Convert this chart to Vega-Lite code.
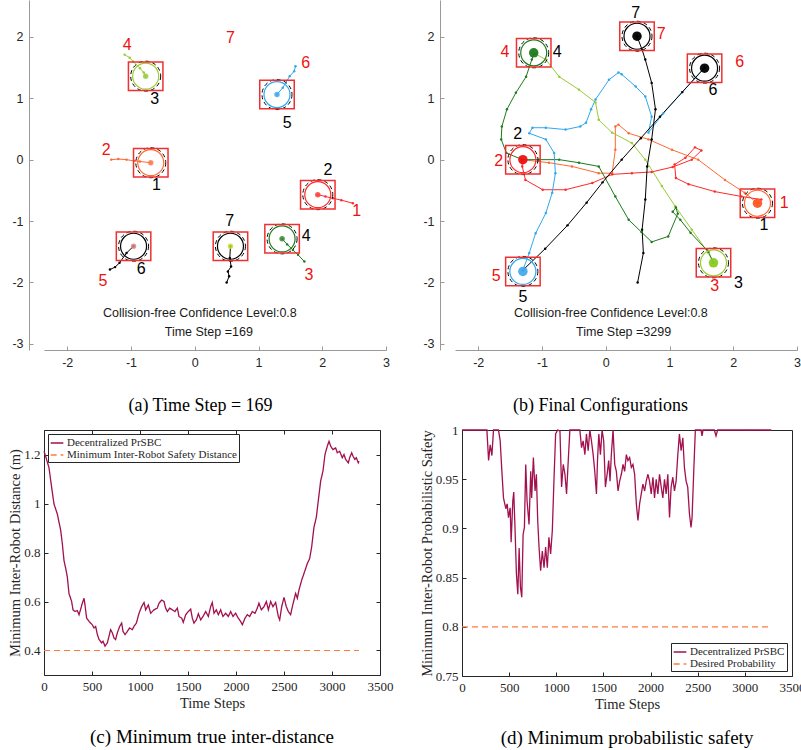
{
"$schema": "https://vega.github.io/schema/vega-lite/v6.json",
"padding": {"left": 7, "top": 0, "right": 0, "bottom": 0},
"config": {"font": "Liberation Sans", "view": {"stroke": null}},
"resolve": {"scale": {"color": "independent", "stroke": "independent", "fill": "independent", "strokeDash": "independent", "x": "independent", "y": "independent"}, "legend": {"color": "independent", "strokeDash": "independent"}},
"datasets": {
"trajA": [
{"robot":1,"x":-1.31,"y":0.0},{"robot":1,"x":-1.2,"y":0.01},{"robot":1,"x":-1.07,"y":0.0},{"robot":1,"x":-0.95,"y":-0.02},{"robot":1,"x":-0.86,"y":-0.03},{"robot":1,"x":-0.69,"y":-0.05},
{"robot":2,"x":2.48,"y":-0.71},{"robot":2,"x":2.3,"y":-0.66},{"robot":2,"x":2.17,"y":-0.63},{"robot":2,"x":2.05,"y":-0.6},{"robot":2,"x":1.93,"y":-0.57},
{"robot":3,"x":-1.1,"y":1.71},{"robot":3,"x":-1.02,"y":1.66},{"robot":3,"x":-0.97,"y":1.6},{"robot":3,"x":-0.86,"y":1.49},{"robot":3,"x":-0.8,"y":1.42},{"robot":3,"x":-0.77,"y":1.36},
{"robot":4,"x":1.72,"y":-1.66},{"robot":4,"x":1.62,"y":-1.55},{"robot":4,"x":1.54,"y":-1.47},{"robot":4,"x":1.45,"y":-1.38},{"robot":4,"x":1.37,"y":-1.29},
{"robot":5,"x":1.58,"y":1.52},{"robot":5,"x":1.56,"y":1.44},{"robot":5,"x":1.49,"y":1.36},{"robot":5,"x":1.38,"y":1.17},{"robot":5,"x":1.29,"y":1.06},
{"robot":6,"x":-1.33,"y":-1.79},{"robot":6,"x":-1.25,"y":-1.75},{"robot":6,"x":-1.18,"y":-1.68},{"robot":6,"x":-1.07,"y":-1.52},{"robot":6,"x":-0.96,"y":-1.41},
{"robot":7,"x":0.5,"y":-2.0},{"robot":7,"x":0.54,"y":-1.9},{"robot":7,"x":0.52,"y":-1.82},{"robot":7,"x":0.57,"y":-1.74},{"robot":7,"x":0.55,"y":-1.6},{"robot":7,"x":0.56,"y":-1.41}
],
"robA": [
{"robot":1,"x":-0.69,"y":-0.05},{"robot":2,"x":1.93,"y":-0.57},{"robot":3,"x":-0.77,"y":1.36},{"robot":4,"x":1.37,"y":-1.29},{"robot":5,"x":1.29,"y":1.06},{"robot":6,"x":-0.96,"y":-1.41},{"robot":7,"x":0.56,"y":-1.41}
],
"blackA": [
{"robot":1,"x":-0.6,"y":-0.42},{"robot":2,"x":2.09,"y":-0.17},{"robot":3,"x":-0.63,"y":0.98},{"robot":4,"x":1.75,"y":-1.25},{"robot":5,"x":1.45,"y":0.6},{"robot":6,"x":-0.84,"y":-1.78},{"robot":7,"x":0.55,"y":-1.0}
],
"redA": [
{"robot":1,"x":2.54,"y":-0.83},{"robot":2,"x":-1.39,"y":0.16},{"robot":3,"x":1.79,"y":-1.88},{"robot":4,"x":-1.06,"y":1.86},{"robot":5,"x":-1.44,"y":-1.98},{"robot":6,"x":1.74,"y":1.57},{"robot":7,"x":0.56,"y":1.98}
],
"notesA": [
{"t":"Collision-free Confidence Level:0.8","x":0.08,"y":-2.5},{"t":"Time Step =169","x":0.22,"y":-2.8}
],
"trajB": [
{"robot":1,"x":-1.31,"y":0.0},{"robot":1,"x":-0.89,"y":-0.05},{"robot":1,"x":-0.53,"y":-0.11},{"robot":1,"x":-0.11,"y":-0.22},{"robot":1,"x":0.1,"y":-0.22},{"robot":1,"x":0.15,"y":0.16},{"robot":1,"x":0.15,"y":0.54},{"robot":1,"x":0.2,"y":0.57},{"robot":1,"x":0.36,"y":0.43},{"robot":1,"x":0.67,"y":0.33},{"robot":1,"x":1.04,"y":0.16},{"robot":1,"x":1.45,"y":0.0},{"robot":1,"x":1.87,"y":-0.33},{"robot":1,"x":2.18,"y":-0.54},{"robot":1,"x":2.38,"y":-0.71},
{"robot":2,"x":2.44,"y":-0.65},{"robot":2,"x":2.13,"y":-0.6},{"robot":2,"x":1.71,"y":-0.52},{"robot":2,"x":1.3,"y":-0.4},{"robot":2,"x":1.1,"y":-0.3},{"robot":2,"x":1.08,"y":-0.08},{"robot":2,"x":1.25,"y":0.03},{"robot":2,"x":1.4,"y":0.2},{"robot":2,"x":1.5,"y":0.15},{"robot":2,"x":1.35,"y":0.0},{"robot":2,"x":1.05,"y":-0.12},{"robot":2,"x":0.72,"y":-0.2},{"robot":2,"x":0.41,"y":-0.22},{"robot":2,"x":0.1,"y":-0.24},{"robot":2,"x":-0.21,"y":-0.38},{"robot":2,"x":-0.63,"y":-0.49},{"robot":2,"x":-0.99,"y":-0.49},{"robot":2,"x":-1.26,"y":-0.33},{"robot":2,"x":-1.31,"y":-0.11},{"robot":2,"x":-1.32,"y":0.0},
{"robot":3,"x":-1.1,"y":1.72},{"robot":3,"x":-0.94,"y":1.63},{"robot":3,"x":-0.73,"y":1.35},{"robot":3,"x":-0.42,"y":1.14},{"robot":3,"x":-0.16,"y":0.93},{"robot":3,"x":-0.11,"y":0.65},{"robot":3,"x":0.1,"y":0.44},{"robot":3,"x":0.41,"y":0.27},{"robot":3,"x":0.62,"y":0.0},{"robot":3,"x":0.88,"y":-0.43},{"robot":3,"x":1.09,"y":-0.76},{"robot":3,"x":1.35,"y":-1.14},{"robot":3,"x":1.61,"y":-1.52},{"robot":3,"x":1.69,"y":-1.68},
{"robot":4,"x":1.69,"y":-1.68},{"robot":4,"x":1.61,"y":-1.5},{"robot":4,"x":1.33,"y":-1.19},{"robot":4,"x":1.17,"y":-0.98},{"robot":4,"x":1.05,"y":-0.85},{"robot":4,"x":1.1,"y":-0.78},{"robot":4,"x":1.13,"y":-0.88},{"robot":4,"x":0.98,"y":-1.25},{"robot":4,"x":0.72,"y":-1.34},{"robot":4,"x":0.56,"y":-1.18},{"robot":4,"x":0.36,"y":-0.98},{"robot":4,"x":0.15,"y":-0.6},{"robot":4,"x":-0.11,"y":-0.11},{"robot":4,"x":-0.42,"y":-0.05},{"robot":4,"x":-0.73,"y":0.0},{"robot":4,"x":-1.05,"y":0.0},{"robot":4,"x":-1.31,"y":0.0},{"robot":4,"x":-1.56,"y":0.11},{"robot":4,"x":-1.64,"y":0.33},{"robot":4,"x":-1.63,"y":0.54},{"robot":4,"x":-1.55,"y":0.82},{"robot":4,"x":-1.41,"y":1.09},{"robot":4,"x":-1.25,"y":1.35},{"robot":4,"x":-1.16,"y":1.63},{"robot":4,"x":-1.13,"y":1.72},
{"robot":5,"x":1.55,"y":1.49},{"robot":5,"x":1.2,"y":1.1},{"robot":5,"x":0.9,"y":0.75},{"robot":5,"x":0.67,"y":0.44},{"robot":5,"x":0.72,"y":0.7},{"robot":5,"x":0.62,"y":1.03},{"robot":5,"x":0.47,"y":1.19},{"robot":5,"x":0.25,"y":1.39},{"robot":5,"x":0.2,"y":1.42},{"robot":5,"x":0.05,"y":1.3},{"robot":5,"x":-0.16,"y":0.98},{"robot":5,"x":-0.23,"y":0.82},{"robot":5,"x":-0.31,"y":0.6},{"robot":5,"x":-0.4,"y":0.54},{"robot":5,"x":-0.63,"y":0.49},{"robot":5,"x":-0.94,"y":0.52},{"robot":5,"x":-1.15,"y":0.52},{"robot":5,"x":-1.2,"y":0.43},{"robot":5,"x":-0.94,"y":0.33},{"robot":5,"x":-0.81,"y":0.11},{"robot":5,"x":-0.79,"y":-0.22},{"robot":5,"x":-0.84,"y":-0.54},{"robot":5,"x":-0.94,"y":-0.87},{"robot":5,"x":-1.1,"y":-1.2},{"robot":5,"x":-1.2,"y":-1.52},{"robot":5,"x":-1.3,"y":-1.8},
{"robot":6,"x":-1.3,"y":-1.8},{"robot":6,"x":-0.95,"y":-1.45},{"robot":6,"x":-0.6,"y":-1.07},{"robot":6,"x":-0.3,"y":-0.7},{"robot":6,"x":-0.05,"y":-0.37},{"robot":6,"x":0.25,"y":0.0},{"robot":6,"x":0.55,"y":0.35},{"robot":6,"x":0.85,"y":0.7},{"robot":6,"x":1.2,"y":1.1},{"robot":6,"x":1.55,"y":1.5},
{"robot":7,"x":0.5,"y":-2.0},{"robot":7,"x":0.59,"y":-1.52},{"robot":7,"x":0.57,"y":-1.14},{"robot":7,"x":0.62,"y":-0.65},{"robot":7,"x":0.65,"y":-0.11},{"robot":7,"x":0.72,"y":0.33},{"robot":7,"x":0.78,"y":0.82},{"robot":7,"x":0.72,"y":1.25},{"robot":7,"x":0.62,"y":1.63},{"robot":7,"x":0.57,"y":1.79},{"robot":7,"x":0.49,"y":2.01}
],
"robB": [
{"robot":1,"x":2.38,"y":-0.71},{"robot":2,"x":-1.3,"y":0.0},{"robot":3,"x":1.69,"y":-1.68},{"robot":4,"x":-1.13,"y":1.74},{"robot":5,"x":-1.3,"y":-1.82},{"robot":6,"x":1.55,"y":1.49},{"robot":7,"x":0.49,"y":2.01}
],
"blackB": [
{"robot":1,"x":2.48,"y":-1.06},{"robot":2,"x":-1.38,"y":0.41},{"robot":3,"x":2.08,"y":-2.01},{"robot":4,"x":-0.76,"y":1.75},{"robot":5,"x":-1.3,"y":-2.24},{"robot":6,"x":1.68,"y":1.14},{"robot":7,"x":0.47,"y":2.39}
],
"redB": [
{"robot":1,"x":2.8,"y":-0.7},{"robot":2,"x":-1.68,"y":-0.03},{"robot":3,"x":1.71,"y":-2.05},{"robot":4,"x":-1.58,"y":1.75},{"robot":5,"x":-1.72,"y":-1.89},{"robot":6,"x":2.1,"y":1.59},{"robot":7,"x":0.87,"y":2.04}
],
"notesB": [
{"t":"Collision-free Confidence Level:0.8","x":0.08,"y":-2.5},{"t":"Time Step =3299","x":0.28,"y":-2.8}
],
"distC": [
{"t":0,"v":1.213},{"t":17,"v":1.193},{"t":52,"v":1.146},{"t":80,"v":1.065},{"t":104,"v":0.998},{"t":139,"v":0.957},{"t":174,"v":0.89},{"t":191,"v":0.836},{"t":208,"v":0.768},{"t":226,"v":0.735},{"t":243,"v":0.7},{"t":260,"v":0.633},{"t":288,"v":0.6},{"t":302,"v":0.566},{"t":323,"v":0.559},{"t":347,"v":0.563},{"t":365,"v":0.546},{"t":382,"v":0.569},{"t":399,"v":0.593},{"t":417,"v":0.613},{"t":427,"v":0.586},{"t":444,"v":0.532},{"t":469,"v":0.519},{"t":503,"v":0.505},{"t":521,"v":0.492},{"t":538,"v":0.498},{"t":556,"v":0.465},{"t":573,"v":0.445},{"t":601,"v":0.431},{"t":615,"v":0.438},{"t":635,"v":0.418},{"t":660,"v":0.431},{"t":677,"v":0.458},{"t":694,"v":0.485},{"t":712,"v":0.472},{"t":729,"v":0.451},{"t":746,"v":0.445},{"t":764,"v":0.472},{"t":788,"v":0.498},{"t":809,"v":0.512},{"t":823,"v":0.478},{"t":844,"v":0.465},{"t":868,"v":0.478},{"t":892,"v":0.492},{"t":920,"v":0.485},{"t":937,"v":0.498},{"t":962,"v":0.512},{"t":990,"v":0.552},{"t":1017,"v":0.579},{"t":1042,"v":0.596},{"t":1059,"v":0.566},{"t":1087,"v":0.586},{"t":1111,"v":0.552},{"t":1146,"v":0.566},{"t":1180,"v":0.573},{"t":1198,"v":0.593},{"t":1226,"v":0.606},{"t":1250,"v":0.6},{"t":1267,"v":0.573},{"t":1285,"v":0.559},{"t":1309,"v":0.573},{"t":1337,"v":0.566},{"t":1364,"v":0.559},{"t":1389,"v":0.573},{"t":1406,"v":0.539},{"t":1434,"v":0.532},{"t":1451,"v":0.515},{"t":1476,"v":0.546},{"t":1503,"v":0.559},{"t":1528,"v":0.569},{"t":1545,"v":0.532},{"t":1562,"v":0.512},{"t":1587,"v":0.525},{"t":1608,"v":0.55},{"t":1632,"v":0.525},{"t":1656,"v":0.539},{"t":1684,"v":0.559},{"t":1712,"v":0.539},{"t":1736,"v":0.579},{"t":1753,"v":0.596},{"t":1771,"v":0.552},{"t":1795,"v":0.566},{"t":1816,"v":0.546},{"t":1840,"v":0.566},{"t":1864,"v":0.539},{"t":1892,"v":0.552},{"t":1920,"v":0.539},{"t":1944,"v":0.559},{"t":1969,"v":0.539},{"t":1996,"v":0.552},{"t":2024,"v":0.532},{"t":2048,"v":0.519},{"t":2066,"v":0.505},{"t":2094,"v":0.532},{"t":2118,"v":0.546},{"t":2142,"v":0.539},{"t":2170,"v":0.559},{"t":2198,"v":0.552},{"t":2222,"v":0.573},{"t":2239,"v":0.593},{"t":2264,"v":0.566},{"t":2292,"v":0.579},{"t":2316,"v":0.6},{"t":2337,"v":0.566},{"t":2361,"v":0.6},{"t":2385,"v":0.579},{"t":2413,"v":0.596},{"t":2441,"v":0.539},{"t":2455,"v":0.525},{"t":2476,"v":0.579},{"t":2500,"v":0.617},{"t":2524,"v":0.579},{"t":2545,"v":0.559},{"t":2569,"v":0.546},{"t":2587,"v":0.579},{"t":2604,"v":0.606},{"t":2621,"v":0.633},{"t":2639,"v":0.613},{"t":2656,"v":0.647},{"t":2684,"v":0.687},{"t":2708,"v":0.714},{"t":2743,"v":0.755},{"t":2767,"v":0.775},{"t":2788,"v":0.822},{"t":2812,"v":0.903},{"t":2837,"v":0.944},{"t":2857,"v":1.011},{"t":2882,"v":1.092},{"t":2906,"v":1.133},{"t":2927,"v":1.2},{"t":2951,"v":1.234},{"t":2969,"v":1.254},{"t":2986,"v":1.234},{"t":3010,"v":1.22},{"t":3038,"v":1.227},{"t":3055,"v":1.207},{"t":3080,"v":1.213},{"t":3107,"v":1.187},{"t":3125,"v":1.2},{"t":3142,"v":1.18},{"t":3170,"v":1.166},{"t":3184,"v":1.187},{"t":3205,"v":1.207},{"t":3219,"v":1.193},{"t":3239,"v":1.18},{"t":3253,"v":1.187},{"t":3274,"v":1.166},{"t":3281,"v":1.173}
],
"safeC": [{"t":0,"v":0.4},{"t":3281,"v":0.4}],
"probD": [
{"t":0,"v":1},{"t":264,"v":1},{"t":282,"v":0.969},{"t":299,"v":0.985},{"t":317,"v":0.974},{"t":334,"v":1},{"t":387,"v":1},{"t":405,"v":0.989},{"t":423,"v":0.958},{"t":440,"v":0.931},{"t":465,"v":0.92},{"t":479,"v":0.925},{"t":493,"v":0.911},{"t":511,"v":0.921},{"t":521,"v":0.886},{"t":539,"v":0.928},{"t":549,"v":0.937},{"t":563,"v":0.898},{"t":577,"v":0.854},{"t":592,"v":0.833},{"t":606,"v":0.88},{"t":620,"v":0.84},{"t":634,"v":0.83},{"t":648,"v":0.894},{"t":662,"v":0.901},{"t":676,"v":0.965},{"t":690,"v":0.928},{"t":711,"v":0.904},{"t":729,"v":0.958},{"t":739,"v":0.931},{"t":757,"v":0.972},{"t":775,"v":0.938},{"t":789,"v":0.955},{"t":803,"v":0.908},{"t":817,"v":0.881},{"t":834,"v":0.857},{"t":852,"v":0.877},{"t":870,"v":0.86},{"t":887,"v":0.881},{"t":905,"v":0.86},{"t":922,"v":0.891},{"t":940,"v":0.874},{"t":958,"v":0.898},{"t":975,"v":0.948},{"t":993,"v":0.996},{"t":1014,"v":1},{"t":1039,"v":0.999},{"t":1056,"v":0.942},{"t":1074,"v":0.965},{"t":1092,"v":0.955},{"t":1109,"v":0.935},{"t":1127,"v":0.969},{"t":1144,"v":1},{"t":1250,"v":1},{"t":1268,"v":0.982},{"t":1285,"v":0.989},{"t":1303,"v":0.975},{"t":1320,"v":0.996},{"t":1338,"v":0.979},{"t":1356,"v":1},{"t":1373,"v":0.989},{"t":1391,"v":0.975},{"t":1408,"v":0.958},{"t":1426,"v":0.935},{"t":1437,"v":0.969},{"t":1451,"v":0.996},{"t":1468,"v":0.975},{"t":1486,"v":1},{"t":1503,"v":0.989},{"t":1521,"v":0.942},{"t":1539,"v":0.955},{"t":1556,"v":0.969},{"t":1570,"v":0.948},{"t":1584,"v":0.975},{"t":1602,"v":1},{"t":1620,"v":0.965},{"t":1637,"v":0.958},{"t":1655,"v":0.938},{"t":1672,"v":0.948},{"t":1690,"v":0.955},{"t":1708,"v":0.965},{"t":1725,"v":0.958},{"t":1743,"v":0.975},{"t":1760,"v":0.969},{"t":1778,"v":0.972},{"t":1796,"v":0.962},{"t":1813,"v":0.965},{"t":1831,"v":0.955},{"t":1849,"v":0.925},{"t":1866,"v":0.908},{"t":1884,"v":0.925},{"t":1901,"v":0.935},{"t":1919,"v":0.945},{"t":1937,"v":0.938},{"t":1954,"v":0.948},{"t":1972,"v":0.955},{"t":1989,"v":0.948},{"t":2007,"v":0.935},{"t":2025,"v":0.952},{"t":2042,"v":0.931},{"t":2060,"v":0.95},{"t":2077,"v":0.935},{"t":2095,"v":0.955},{"t":2113,"v":0.942},{"t":2130,"v":0.931},{"t":2148,"v":0.95},{"t":2165,"v":0.935},{"t":2183,"v":0.955},{"t":2201,"v":0.911},{"t":2218,"v":0.942},{"t":2236,"v":0.952},{"t":2253,"v":0.938},{"t":2271,"v":0.948},{"t":2289,"v":0.975},{"t":2306,"v":0.996},{"t":2324,"v":0.979},{"t":2342,"v":0.992},{"t":2359,"v":0.962},{"t":2377,"v":0.948},{"t":2394,"v":0.942},{"t":2412,"v":0.915},{"t":2429,"v":0.901},{"t":2440,"v":0.911},{"t":2458,"v":0.958},{"t":2475,"v":1},{"t":2535,"v":1},{"t":2546,"v":0.994},{"t":2556,"v":1},{"t":2676,"v":1},{"t":2694,"v":0.994},{"t":2711,"v":1},{"t":3280,"v":1}
],
"safeD": [{"t":0,"v":0.8},{"t":3260,"v":0.8}]
},
"columns": 1,
"align": "none",
"spacing": 8,
"concat": [
{"hconcat": [
{
"width": 342, "height": 350,
"encoding": {
"x": {"field":"x","type":"quantitative","scale":{"domain":[-2.365,3],"nice":false,"zero":false},
"axis":{"values":[-2,-1,0,1,2,3],"labelExpr":"''+datum.value","labelFlush":false,"title":"(a) Time Step = 169","grid":false,"domainColor":"#9a9a9a","tickColor":"#9a9a9a","tickSize":-4,"labelPadding":10,"labelColor":"#262626","labelFont":"Liberation Sans","labelFontSize":12.5,"titleFont":"Liberation Serif","titleFontSize":18,"titleFontWeight":"normal","titleColor":"#000","titlePadding":28,"titleX":156}},
"y": {"field":"y","type":"quantitative","scale":{"domain":[-3.1,2.6],"nice":false,"zero":false},
"axis":{"values":[-3,-2,-1,0,1,2],"labelExpr":"''+datum.value","title":null,"offset":15,"grid":false,"domainColor":"#9a9a9a","tickColor":"#9a9a9a","tickSize":-4,"labelPadding":10,"labelColor":"#262626","labelFont":"Liberation Sans","labelFontSize":12.5}}
},
"layer": [
{"data":{"name":"trajA"},"mark":{"type":"line","strokeWidth":1},"encoding":{"stroke":{"field":"robot","type":"nominal","scale":{"domain":[1,2,3,4,5,6,7],"range":["#FF6A33","#FF2A2A","#99CC33","#1E7B1E","#2FA8F0","#000000","#000000"]},"legend":null},"order":{"value":null}}},
{"data":{"name":"trajA"},"mark":{"type":"circle","size":6,"opacity":1},"encoding":{"color":{"field":"robot","type":"nominal","scale":{"domain":[1,2,3,4,5,6,7],"range":["#FF6A33","#FF2A2A","#99CC33","#1E7B1E","#2FA8F0","#000000","#000000"]},"legend":null}}},
{"data":{"name":"robA"},"mark":{"type":"circle","size":30,"opacity":0.85},"encoding":{"fill":{"field":"robot","type":"nominal","scale":{"domain":[1,2,3,4,5,6,7],"range":["#FF7A50","#FF4040","#99CC44","#3A8A3A","#44AAEE","#D88888","#CCDD33"]},"legend":null}}},
{"data":{"name":"robA"},"mark":{"type":"point","shape":"circle","filled":false,"size":676,"strokeWidth":1.2,"opacity":1},"encoding":{"stroke":{"field":"robot","type":"nominal","legend":null}}},
{"data":{"name":"robA"},"mark":{"type":"point","shape":"circle","filled":false,"size":900,"strokeWidth":1,"stroke":"#000","strokeDash":[4,3],"opacity":1}},
{"data":{"name":"robA"},"mark":{"type":"point","shape":"M-1.15,-0.95L1.15,-0.95L1.15,0.95L-1.15,0.95Z","filled":false,"size":900,"strokeWidth":1.5,"stroke":"#F03030","opacity":1}},
{"data":{"name":"blackA"},"mark":{"type":"text","fontSize":16,"font":"Liberation Sans","color":"#000"},"encoding":{"text":{"field":"robot"}}},
{"data":{"name":"redA"},"mark":{"type":"text","fontSize":16,"font":"Liberation Sans","color":"#F01010"},"encoding":{"text":{"field":"robot"}}},
{"data":{"name":"notesA"},"mark":{"type":"text","fontSize":12.5,"font":"Liberation Sans","color":"#1a1a1a"},"encoding":{"text":{"field":"t"}}}
]
},
{
"width": 342, "height": 350,
"encoding": {
"x": {"field":"x","type":"quantitative","scale":{"domain":[-2.365,3],"nice":false,"zero":false},
"axis":{"values":[-2,-1,0,1,2,3],"labelExpr":"''+datum.value","labelFlush":false,"title":"(b) Final Configurations","grid":false,"domainColor":"#9a9a9a","tickColor":"#9a9a9a","tickSize":-4,"labelPadding":10,"labelColor":"#262626","labelFont":"Liberation Sans","labelFontSize":12.5,"titleFont":"Liberation Serif","titleFontSize":18,"titleFontWeight":"normal","titleColor":"#000","titlePadding":28,"titleX":145}},
"y": {"field":"y","type":"quantitative","scale":{"domain":[-3.1,2.6],"nice":false,"zero":false},
"axis":{"values":[-3,-2,-1,0,1,2],"labelExpr":"''+datum.value","title":null,"offset":15,"grid":false,"domainColor":"#9a9a9a","tickColor":"#9a9a9a","tickSize":-4,"labelPadding":10,"labelColor":"#262626","labelFont":"Liberation Sans","labelFontSize":12.5}}
},
"layer": [
{"data":{"name":"trajB"},"mark":{"type":"line","strokeWidth":1},"encoding":{"stroke":{"field":"robot","type":"nominal","scale":{"domain":[1,2,3,4,5,6,7],"range":["#FF6A33","#FF2A2A","#99CC33","#1E7B1E","#2FA8F0","#000000","#000000"]},"legend":null},"order":{"value":null}}},
{"data":{"name":"trajB"},"mark":{"type":"circle","size":6,"opacity":1},"encoding":{"color":{"field":"robot","type":"nominal","scale":{"domain":[1,2,3,4,5,6,7],"range":["#FF6A33","#FF2A2A","#99CC33","#1E7B1E","#2FA8F0","#000000","#000000"]},"legend":null}}},
{"data":{"name":"robB"},"mark":{"type":"circle","size":90,"opacity":0.95},"encoding":{"fill":{"field":"robot","type":"nominal","scale":{"domain":[1,2,3,4,5,6,7],"range":["#FF5522","#EE1111","#88CC22","#1E7B1E","#44AAEE","#000000","#000000"]},"legend":null}}},
{"data":{"name":"robB"},"mark":{"type":"point","shape":"circle","filled":false,"size":676,"strokeWidth":1.2,"opacity":1},"encoding":{"stroke":{"field":"robot","type":"nominal","legend":null}}},
{"data":{"name":"robB"},"mark":{"type":"point","shape":"circle","filled":false,"size":900,"strokeWidth":1,"stroke":"#000","strokeDash":[4,3],"opacity":1}},
{"data":{"name":"robB"},"mark":{"type":"point","shape":"M-1.15,-0.95L1.15,-0.95L1.15,0.95L-1.15,0.95Z","filled":false,"size":900,"strokeWidth":1.5,"stroke":"#F03030","opacity":1}},
{"data":{"name":"blackB"},"mark":{"type":"text","fontSize":16,"font":"Liberation Sans","color":"#000"},"encoding":{"text":{"field":"robot"}}},
{"data":{"name":"redB"},"mark":{"type":"text","fontSize":16,"font":"Liberation Sans","color":"#F01010"},"encoding":{"text":{"field":"robot"}}},
{"data":{"name":"notesB"},"mark":{"type":"text","fontSize":12.5,"font":"Liberation Sans","color":"#1a1a1a"},"encoding":{"text":{"field":"t"}}}
]
}
], "spacing": 69, "bounds": "flush",
"resolve": {"scale": {"color": "independent", "stroke": "independent", "fill": "independent", "x": "independent", "y": "independent"}}},
{"hconcat": [
{
"width": 336, "height": 245,
"view": {"stroke": "#262626", "strokeWidth": 1},
"title": {"text": "(c) Minimum true inter-distance", "orient": "bottom", "font": "Liberation Serif", "fontSize": 19, "fontWeight": "normal", "color": "#000", "offset": 18},
"layer": [
{"data":{"name":"distC"},"mark":{"type":"line","strokeWidth":1.3},
"encoding":{
"x":{"field":"t","type":"quantitative","scale":{"domain":[0,3500],"nice":false,"zero":false},"axis":{"values":[0,500,1000,1500,2000,2500,3000,3500],"labelExpr":"''+datum.value","labelFlush":false,"grid":false,"domain":false,"tickSize":-4,"tickColor":"#262626","labelPadding":9,"labelFont":"Liberation Serif","labelFontSize":13,"labelColor":"#262626","title":"Time Steps","titleFont":"Liberation Serif","titleFontSize":14.5,"titleFontWeight":"normal","titleColor":"#262626","titleY":21,"titleBaseline":"top"}},
"y":{"field":"v","type":"quantitative","scale":{"domain":[0.3,1.3],"nice":false,"zero":false},"axis":{"values":[0.4,0.6,0.8,1,1.2],"labelExpr":"''+datum.value","grid":false,"domain":false,"tickSize":-4,"tickColor":"#262626","labelPadding":8,"labelFont":"Liberation Serif","labelFontSize":13,"labelColor":"#262626","title":"Minimum Inter-Robot Distance (m)","titleFont":"Liberation Serif","titleFontSize":14.5,"titleFontWeight":"normal","titleColor":"#262626","titlePadding":1}},
"color":{"datum":"Decentralized PrSBC","type":"nominal","scale":{"domain":["Decentralized PrSBC","Minimum Inter-Robot Safety Distance"],"range":["#A2104E","#FF7A3D"]},"legend":{"title":null,"orient":"top-left","offset":4,"fillColor":"#fff","strokeColor":"#262626","padding":2,"rowPadding":0,"symbolType":"stroke","symbolSize":160,"symbolStrokeWidth":1.3,"labelFont":"Liberation Serif","labelFontSize":11,"labelColor":"#262626","labelOffset":3,"labelLimit":400,"cornerRadius":0}},
"strokeDash":{"datum":"Decentralized PrSBC","type":"nominal","scale":{"domain":["Decentralized PrSBC","Minimum Inter-Robot Safety Distance"],"range":[[1,0],[6,4]]},"legend":{"title":null,"orient":"top-left","offset":4,"fillColor":"#fff","strokeColor":"#262626","padding":2,"rowPadding":0,"symbolType":"stroke","symbolSize":160,"symbolStrokeWidth":1.3,"labelFont":"Liberation Serif","labelFontSize":11,"labelColor":"#262626","labelOffset":3,"labelLimit":400,"cornerRadius":0}}
}},
{"data":{"name":"safeC"},"mark":{"type":"line","strokeWidth":1.2},
"encoding":{"x":{"field":"t","type":"quantitative","axis":null},"y":{"field":"v","type":"quantitative","axis":null},
"color":{"datum":"Minimum Inter-Robot Safety Distance","type":"nominal"},"strokeDash":{"datum":"Minimum Inter-Robot Safety Distance","type":"nominal"}}},
{"data":{"name":"safeC"},"mark":{"type":"point","opacity":0},
"encoding":{"x":{"field":"t","type":"quantitative","axis":{"orient":"top","values":[0,500,1000,1500,2000,2500,3000,3500],"labels":false,"domain":false,"grid":false,"tickSize":-4,"tickColor":"#262626","title":null}},
"y":{"field":"v","type":"quantitative","axis":{"orient":"right","values":[0.4,0.6,0.8,1,1.2],"labels":false,"domain":false,"grid":false,"tickSize":-4,"tickColor":"#262626","title":null}}}}
],
"resolve": {"axis": {"x": "independent", "y": "independent"}}
},
{
"width": 330, "height": 246,
"view": {"stroke": "#262626", "strokeWidth": 1},
"title": {"text": "(d) Minimum probabilistic safety", "orient": "bottom", "font": "Liberation Serif", "fontSize": 19, "fontWeight": "normal", "color": "#000", "offset": 18},
"layer": [
{"data":{"name":"probD"},"mark":{"type":"line","strokeWidth":1.3},
"encoding":{
"x":{"field":"t","type":"quantitative","scale":{"domain":[0,3500],"nice":false,"zero":false},"axis":{"values":[0,500,1000,1500,2000,2500,3000,3500],"labelExpr":"''+datum.value","labelFlush":false,"grid":false,"domain":false,"tickSize":-4,"tickColor":"#262626","labelPadding":9,"labelFont":"Liberation Serif","labelFontSize":13,"labelColor":"#262626","title":"Time Steps","titleFont":"Liberation Serif","titleFontSize":14.5,"titleFontWeight":"normal","titleColor":"#262626","titleY":21,"titleBaseline":"top"}},
"y":{"field":"v","type":"quantitative","scale":{"domain":[0.75,1],"nice":false,"zero":false},"axis":{"values":[0.75,0.8,0.85,0.9,0.95,1],"labelExpr":"''+datum.value","grid":false,"domain":false,"tickSize":-4,"tickColor":"#262626","labelPadding":8,"labelFont":"Liberation Serif","labelFontSize":13,"labelColor":"#262626","title":"Minimum Inter-Robot Probabilistic Safety","titleFont":"Liberation Serif","titleFontSize":14.5,"titleFontWeight":"normal","titleColor":"#262626","titlePadding":1}},
"color":{"datum":"Decentralized PrSBC","type":"nominal","scale":{"domain":["Decentralized PrSBC","Desired Probability"],"range":["#A2104E","#FF7A3D"]},"legend":{"title":null,"orient":"bottom-right","offset":5,"fillColor":"#fff","strokeColor":"#262626","padding":2,"rowPadding":0,"symbolType":"stroke","symbolSize":160,"symbolStrokeWidth":1.3,"labelFont":"Liberation Serif","labelFontSize":11,"labelColor":"#262626","labelOffset":3,"labelLimit":400,"cornerRadius":0}},
"strokeDash":{"datum":"Decentralized PrSBC","type":"nominal","scale":{"domain":["Decentralized PrSBC","Desired Probability"],"range":[[1,0],[6,4]]},"legend":{"title":null,"orient":"bottom-right","offset":5,"fillColor":"#fff","strokeColor":"#262626","padding":2,"rowPadding":0,"symbolType":"stroke","symbolSize":160,"symbolStrokeWidth":1.3,"labelFont":"Liberation Serif","labelFontSize":11,"labelColor":"#262626","labelOffset":3,"labelLimit":400,"cornerRadius":0}}
}},
{"data":{"name":"safeD"},"mark":{"type":"line","strokeWidth":1.2},
"encoding":{"x":{"field":"t","type":"quantitative"},"y":{"field":"v","type":"quantitative"},
"color":{"datum":"Desired Probability","type":"nominal"},"strokeDash":{"datum":"Desired Probability","type":"nominal"}}}
]
}
], "spacing": 82, "bounds": "flush",
"resolve": {"scale": {"color": "independent", "strokeDash": "independent", "x": "independent", "y": "independent"}, "legend": {"color": "independent", "strokeDash": "independent"}}}
]
}
